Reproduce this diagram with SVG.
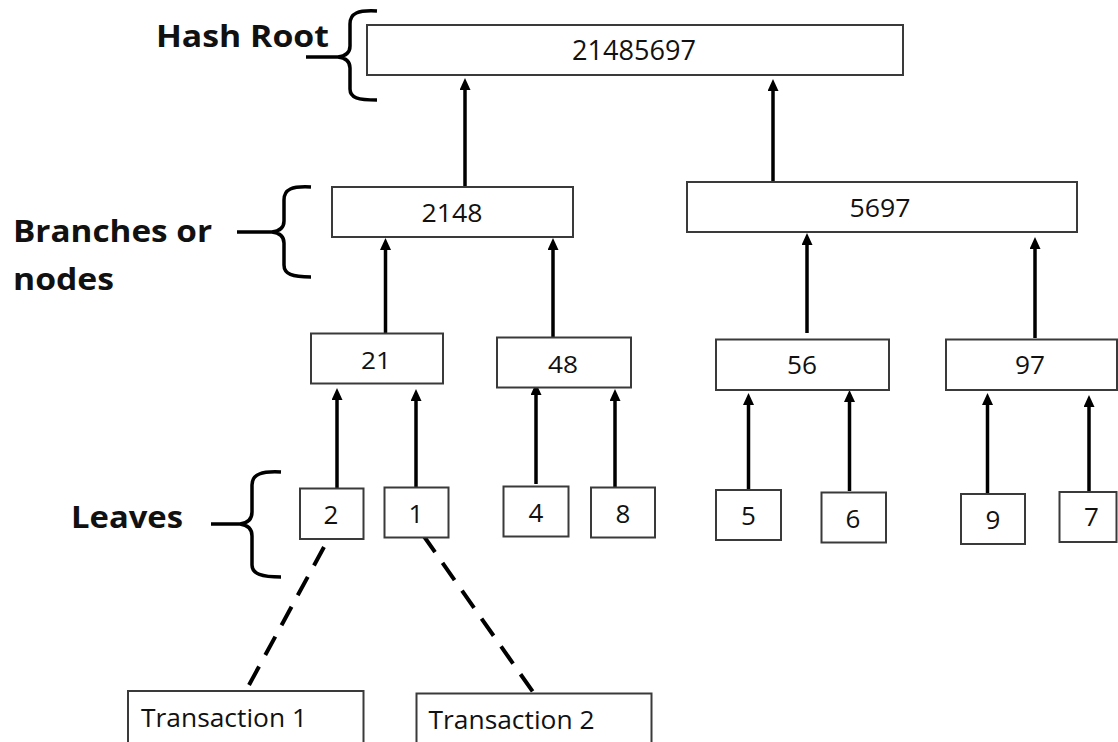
<svg xmlns="http://www.w3.org/2000/svg" width="1118" height="742" viewBox="0 0 1118 742">
<style>
.box{fill:#fff;stroke:#3a3a3a;stroke-width:2}
.t{font-family:"Open Sans","Liberation Sans",sans-serif;fill:#111;text-anchor:middle}
.lb{font-family:"Open Sans","Liberation Sans",sans-serif;font-weight:700;fill:#111}
.tx{font-family:"Open Sans","Liberation Sans",sans-serif;fill:#111}
.arr{stroke:#000;stroke-width:3.5;fill:none;marker-end:url(#ah)}
.dash{stroke:#000;stroke-width:4;stroke-dasharray:21 13;fill:none}
.brace{stroke:#000;stroke-width:3.5;fill:none;stroke-linecap:butt}
</style>
<defs>
<marker id="ah" markerUnits="userSpaceOnUse" markerWidth="12" markerHeight="11" refX="3" refY="5.5" orient="auto" viewBox="0 0 12 11">
<path d="M0,0 L12,5.5 L0,11 z" fill="#000"/>
</marker>
</defs>
<rect width="1118" height="742" fill="#fff"/>

<g id="labels">
<text class="lb" x="156" y="47" font-size="30" textLength="173" lengthAdjust="spacingAndGlyphs">Hash Root</text>
<text class="lb" x="13" y="242" font-size="30" textLength="199" lengthAdjust="spacingAndGlyphs">Branches or</text>
<text class="lb" x="13" y="290" font-size="30" textLength="101" lengthAdjust="spacingAndGlyphs">nodes</text>
<text class="lb" x="71" y="528" font-size="31" textLength="112" lengthAdjust="spacingAndGlyphs">Leaves</text>
</g>

<g id="braces">
<path class="brace" d="M377,11 C358,10 350,13 350,24 L350,46 C350,53 346,56 338,57 L306,57 M338,57 C346,58 350,61 350,68 L350,89 C350,98 358,100 377,100"/>
<path class="brace" d="M311,187 C292,186 284,189 284,200 L284,221 C284,228 280,231 272,232 L237,232 M272,232 C280,233 284,236 284,243 L284,265 C284,274 292,277 311,277"/>
<path class="brace" d="M281,472 C262,471 252,474 252,485 L252,512 C252,519 248,523 240,524 L211,524 M240,524 C248,525 252,529 252,536 L252,565 C252,574 262,577 281,577"/>
</g>

<g id="connectors">
<line class="arr" x1="465" y1="188" x2="465" y2="87"/>
<line class="arr" x1="773" y1="188" x2="773" y2="88"/>
<line class="arr" x1="385.5" y1="336" x2="385.5" y2="247"/>
<line class="arr" x1="553" y1="337" x2="553" y2="247"/>
<line class="arr" x1="807" y1="333" x2="807" y2="242"/>
<line class="arr" x1="1035" y1="338" x2="1035" y2="246"/>
<line class="arr" x1="337" y1="488" x2="337" y2="397"/>
<line class="arr" x1="416" y1="490" x2="416" y2="398"/>
<line class="arr" x1="536" y1="484" x2="536" y2="392"/>
<line class="arr" x1="615" y1="490" x2="615" y2="398"/>
<line class="arr" x1="748.5" y1="493" x2="748.5" y2="402"/>
<line class="arr" x1="849.5" y1="491" x2="849.5" y2="399"/>
<line class="arr" x1="987.5" y1="493" x2="987.5" y2="402"/>
<line class="arr" x1="1089" y1="496" x2="1089" y2="404"/>
<line class="dash" x1="324" y1="547" x2="249" y2="685"/>
<line class="dash" x1="423" y1="535" x2="533" y2="692"/>
</g>

<g id="n-root"><rect class="box" x="367" y="25" width="536" height="50"/><text class="t" x="634" y="60" font-size="27" textLength="124" lengthAdjust="spacingAndGlyphs">21485697</text></g>
<g id="n-2148"><rect class="box" x="332" y="187" width="241" height="50"/><text class="t" x="452" y="222" font-size="26" textLength="61" lengthAdjust="spacingAndGlyphs">2148</text></g>
<g id="n-5697"><rect class="box" x="687" y="182" width="390" height="50"/><text class="t" x="880" y="217" font-size="26" textLength="61" lengthAdjust="spacingAndGlyphs">5697</text></g>
<g id="n-21"><rect class="box" x="311" y="333.5" width="132" height="50"/><text class="t" x="376" y="368.5" font-size="24" textLength="30" lengthAdjust="spacingAndGlyphs">21</text></g>
<g id="n-48"><rect class="box" x="497" y="337.5" width="134" height="50"/><text class="t" x="563" y="372.5" font-size="24" textLength="30" lengthAdjust="spacingAndGlyphs">48</text></g>
<g id="n-56"><rect class="box" x="716" y="339.5" width="173" height="50.5"/><text class="t" x="802" y="373.5" font-size="25" textLength="30" lengthAdjust="spacingAndGlyphs">56</text></g>
<g id="n-97"><rect class="box" x="946" y="339.5" width="171" height="50.5"/><text class="t" x="1030" y="373.5" font-size="25" textLength="30" lengthAdjust="spacingAndGlyphs">97</text></g>
<g id="n-2"><rect class="box" x="300" y="488.5" width="63.5" height="50.5"/><text class="t" x="331" y="523.5" font-size="26">2</text></g>
<g id="n-1"><rect class="box" x="384.5" y="487.5" width="64" height="50"/><text class="t" x="416" y="523" font-size="26">1</text></g>
<g id="n-4"><rect class="box" x="503.5" y="486.5" width="65" height="50"/><text class="t" x="536" y="522" font-size="26">4</text></g>
<g id="n-8"><rect class="box" x="591" y="487.5" width="64" height="50"/><text class="t" x="623" y="523" font-size="26">8</text></g>
<g id="n-5"><rect class="box" x="716" y="490" width="65" height="50"/><text class="t" x="748.5" y="525" font-size="26">5</text></g>
<g id="n-6"><rect class="box" x="821.5" y="492.5" width="64.5" height="50"/><text class="t" x="853" y="527.5" font-size="26">6</text></g>
<g id="n-9"><rect class="box" x="961" y="494" width="64" height="50"/><text class="t" x="993" y="528.5" font-size="26">9</text></g>
<g id="n-7"><rect class="box" x="1059.5" y="492" width="57" height="50"/><text class="t" x="1091.5" y="526" font-size="26">7</text></g>
<g id="n-tx1"><rect class="box" x="128" y="691" width="235.5" height="70"/><text class="tx" x="141" y="727" font-size="25" textLength="166" lengthAdjust="spacingAndGlyphs">Transaction 1</text></g>
<g id="n-tx2"><rect class="box" x="416.5" y="693.5" width="235" height="70"/><text class="tx" x="428.5" y="728.5" font-size="25" textLength="166" lengthAdjust="spacingAndGlyphs">Transaction 2</text></g>
</svg>
